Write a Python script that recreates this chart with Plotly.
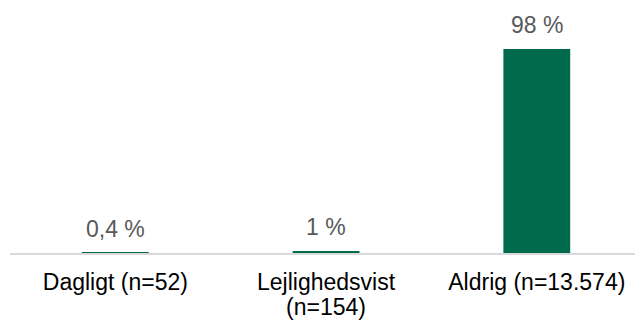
import plotly.graph_objects as go

categories = ["Dagligt (n=52)", "Lejlighedsvist<br>(n=154)", "Aldrig (n=13.574)"]
values = [0.4, 1, 98]

def fmt(v):
    return f"{v:g}".replace(".", ",") + " %"

labels = [fmt(v) for v in values]
xs = list(range(len(categories)))
FONT = "Liberation Sans, Arial"

fig = go.Figure()
fig.add_trace(go.Bar(
    x=xs, y=values, width=0.317,
    marker=dict(color="#006A4D", line=dict(width=0)),
    hoverinfo="skip",
))

for x, v, lab in zip(xs, values, labels):
    fig.add_annotation(x=x, y=v, text=lab, showarrow=False,
                       yanchor="middle", yshift=23.5,
                       font=dict(family=FONT, size=23, color="#595959"))

# first line of each category as tick label, further lines placed tighter below
first_lines = [c.split("<br>")[0] for c in categories]
for x, c in zip(xs, categories):
    for i, extra in enumerate(c.split("<br>")[1:], start=1):
        fig.add_annotation(x=x, y=0, text=extra, showarrow=False,
                           yanchor="middle", yshift=-29 - 25 * i,
                           font=dict(family=FONT, size=23, color="#000000"))

fig.update_layout(
    width=635, height=320,
    margin=dict(l=10, r=0, t=10, b=67),
    paper_bgcolor="white", plot_bgcolor="white",
    showlegend=False,
    font=dict(family=FONT, size=23, color="#000000"),
    xaxis=dict(
        range=[-0.5, 2.466],
        tickmode="array", tickvals=xs, ticktext=first_lines,
        showline=True, linecolor="#d9d9d9", linewidth=2,
        showgrid=False, zeroline=False, ticks="",
        layer="below traces", automargin=False,
        ticklabelstandoff=7,
        tickfont=dict(size=23, color="#000000"),
    ),
    yaxis=dict(
        range=[0, 116.7], visible=False, showgrid=False, zeroline=False,
        automargin=False,
    ),
)

fig.write_html("out.html", config={"displayModeBar": False},
               post_script="document.body.style.margin='0';document.body.style.overflow='hidden';")
